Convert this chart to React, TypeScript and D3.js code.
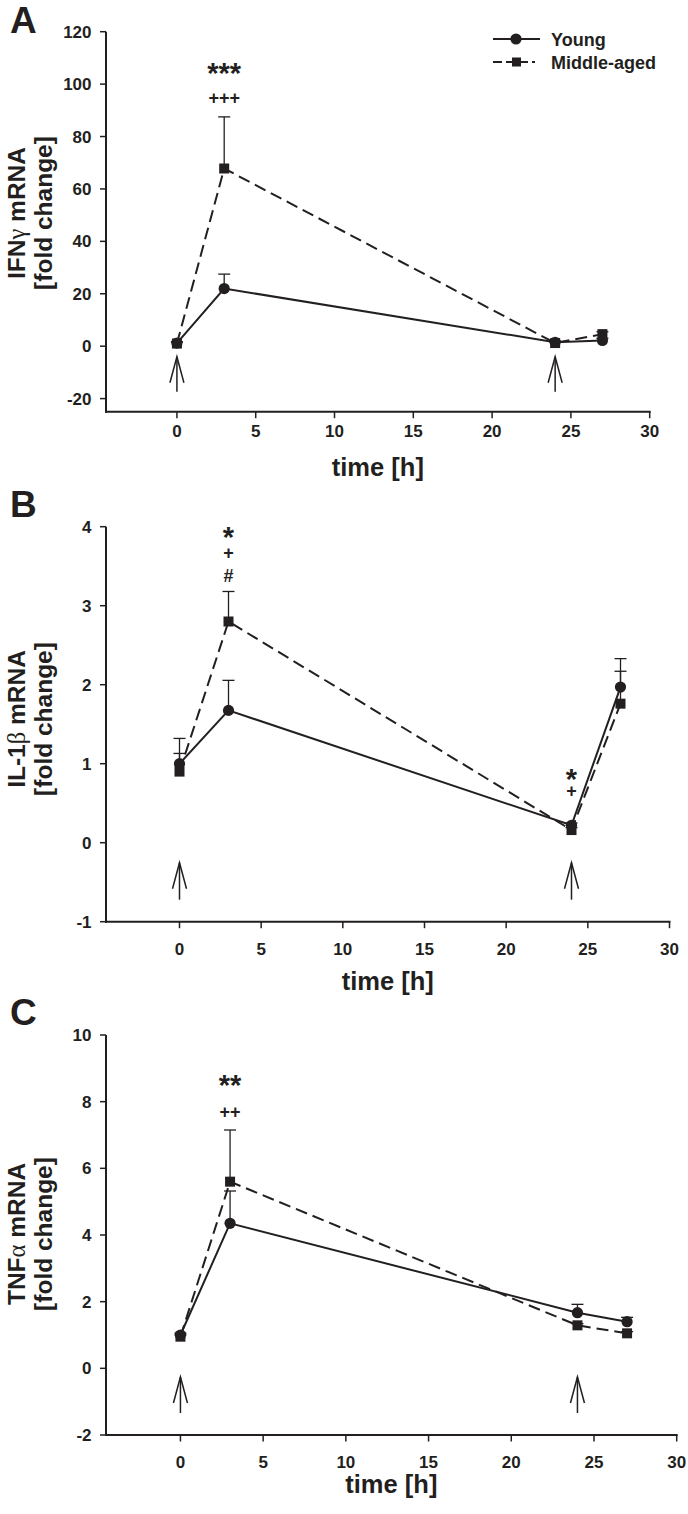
import React from "react";
import * as d3 from "d3";

// ---------- data ----------
const times = [0, 3, 24, 27];
const xTicks = [0, 5, 10, 15, 20, 25, 30];
const arrowTimes = [0, 24];
const seriesNames = ["Young", "Middle-aged"];

// IFN-gamma
const ifnYoung = [1.2, 22, 1.5, 2.2];
const ifnYoungErr = [0.5, 5.5, 0.5, 0.8];
const ifnMiddle = [1.0, 67.8, 1.2, 4.6];
const ifnMiddleErr = [0.5, 19.7, 0.4, 0.9];
const ifnTicks = [-20, 0, 20, 40, 60, 80, 100, 120];
const ifnSig = [
  { t: 3, v: 106.9, text: "***" },
  { t: 3, v: 94.7, text: "+++" },
];

// IL-1beta
const il1Young = [1.0, 1.675, 0.22, 1.97];
const il1YoungErr = [0.32, 0.38, 0.03, 0.36];
const il1Middle = [0.9, 2.8, 0.16, 1.76];
const il1MiddleErr = [0.23, 0.38, 0.03, 0.41];
const il1Ticks = [-1, 0, 1, 2, 3, 4];
const il1Sig = [
  { t: 3, v: 3.95, text: "*" },
  { t: 3, v: 3.67, text: "+" },
  { t: 3, v: 3.38, text: "#" },
  { t: 24, v: 0.89, text: "*" },
  { t: 24, v: 0.65, text: "+" },
];

// TNF-alpha
const tnfYoung = [1.0, 4.35, 1.67, 1.4];
const tnfYoungErr = [0.05, 0.97, 0.25, 0.13];
const tnfMiddle = [0.95, 5.6, 1.29, 1.05];
const tnfMiddleErr = [0.05, 1.55, 0.05, 0.05];
const tnfTicks = [-2, 0, 2, 4, 6, 8, 10];
const tnfSig = [
  { t: 3, v: 8.7, text: "**" },
  { t: 3, v: 7.7, text: "++" },
];

// ---------- style / layout ----------
const FONT = "'Liberation Sans', Arial, Helvetica, sans-serif";
const GREEK = "'Liberation Serif', 'DejaVu Serif', serif";
const INK = "#231f20";
const AXIS_X = 106;
const X_DOMAIN: [number, number] = [-4.5, 30];

type Sig = { t: number; v: number; text: string };
type PanelCfg = {
  letter: string;
  letterY: number;
  top: number;
  bottom: number;
  right: number;
  yDomain: [number, number];
  yTicks: number[];
  young: number[];
  youngErr: number[];
  middle: number[];
  middleErr: number[];
  sig: Sig[];
  labelPre: string;
  labelGreek: string;
  labelPost: string;
  labelY: number;
  xTickDy: number;
  xLabelY: number;
  arrowTip: number;
  arrowTail: number;
  legend: boolean;
};

const panels: PanelCfg[] = [
  {
    letter: "A", letterY: 33, top: 31.7, bottom: 411.7, right: 649.7,
    yDomain: [-25, 120], yTicks: ifnTicks,
    young: ifnYoung, youngErr: ifnYoungErr, middle: ifnMiddle, middleErr: ifnMiddleErr,
    sig: ifnSig, labelPre: "IFN", labelGreek: "γ", labelPost: " mRNA", labelY: 213,
    xTickDy: 25, xLabelY: 476, arrowTip: 55, arrowTail: 20, legend: true,
  },
  {
    letter: "B", letterY: 517, top: 526.7, bottom: 921.7, right: 669.5,
    yDomain: [-1, 4], yTicks: il1Ticks,
    young: il1Young, youngErr: il1YoungErr, middle: il1Middle, middleErr: il1MiddleErr,
    sig: il1Sig, labelPre: "IL-1", labelGreek: "β", labelPost: " mRNA", labelY: 719,
    xTickDy: 33, xLabelY: 990, arrowTip: 59, arrowTail: 22, legend: false,
  },
  {
    letter: "C", letterY: 1025, top: 1035, bottom: 1435, right: 676.7,
    yDomain: [-2, 10], yTicks: tnfTicks,
    young: tnfYoung, youngErr: tnfYoungErr, middle: tnfMiddle, middleErr: tnfMiddleErr,
    sig: tnfSig, labelPre: "TNF", labelGreek: "α", labelPost: " mRNA", labelY: 1234,
    xTickDy: 33, xLabelY: 1493, arrowTip: 58, arrowTail: 22, legend: false,
  },
];

function sigStyle(text: string) {
  if (text.startsWith("*")) return { size: 29, off: 0.57 };
  if (text.startsWith("#")) return { size: 18, off: 0.35 };
  return { size: 18, off: 0.33 };
}

function Square({ cx, cy, s }: { cx: number; cy: number; s: number }) {
  return <rect x={cx - s / 2} y={cy - s / 2} width={s} height={s} fill={INK} />;
}

function Panel({ cfg }: { cfg: PanelCfg }) {
  const x = d3.scaleLinear().domain(X_DOMAIN).range([AXIS_X, cfg.right]);
  const y = d3.scaleLinear().domain(cfg.yDomain).range([cfg.bottom, cfg.top]);
  const line = d3
    .line<number>()
    .x((_, i) => x(times[i]))
    .y((d) => y(d));

  const errBars = (vals: number[], errs: number[], key: string) =>
    vals.map((v, i) => {
      const cx = x(times[i]);
      const y0 = y(v);
      const y1 = y(v + errs[i]);
      return (
        <g key={key + i} stroke={INK} strokeWidth={1.3}>
          <line x1={cx} x2={cx} y1={y0} y2={y1} />
          <line x1={cx - 6} x2={cx + 6} y1={y1} y2={y1} />
        </g>
      );
    });

  const axisTop = y(cfg.yDomain[1]);
  const axisBottom = y(cfg.yDomain[0]);
  const xAxisY = axisBottom;
  const midX = (AXIS_X + cfg.right) / 2;

  return (
    <g fontFamily={FONT} fill={INK}>
      {/* panel letter */}
      <text x={10} y={cfg.letterY} fontSize={37} fontWeight="bold">
        {cfg.letter}
      </text>

      {/* y axis label */}
      <text
        transform={`translate(25,${cfg.labelY}) rotate(-90)`}
        textAnchor="middle"
        fontSize={24.5}
        fontWeight="bold"
      >
        {cfg.labelPre}
        <tspan fontFamily={GREEK} fontWeight="normal">
          {cfg.labelGreek}
        </tspan>
        {cfg.labelPost}
      </text>
      <text
        transform={`translate(51.5,${cfg.labelY}) rotate(-90)`}
        textAnchor="middle"
        fontSize={24.5}
        fontWeight="bold"
      >
        [fold change]
      </text>

      {/* axes */}
      <line x1={AXIS_X} x2={AXIS_X} y1={axisTop} y2={axisBottom + 1} stroke={INK} strokeWidth={2} />
      <line x1={AXIS_X - 1} x2={cfg.right + 1} y1={xAxisY} y2={xAxisY} stroke={INK} strokeWidth={2} />
      {cfg.yTicks.map((t) => (
        <g key={"yt" + t}>
          <line x1={AXIS_X - 6} x2={AXIS_X} y1={y(t)} y2={y(t)} stroke={INK} strokeWidth={1.5} />
          <text
            x={91.5}
            y={y(t) + 6}
            textAnchor="end"
            fontSize={17}
            fontWeight="bold"
          >
            {t}
          </text>
        </g>
      ))}
      {xTicks.map((t) => (
        <g key={"xt" + t}>
          <line x1={x(t)} x2={x(t)} y1={xAxisY} y2={xAxisY + 6.5} stroke={INK} strokeWidth={1.5} />
          <text x={x(t)} y={xAxisY + cfg.xTickDy} textAnchor="middle" fontSize={17} fontWeight="bold">
            {t}
          </text>
        </g>
      ))}
      <text x={midX} y={cfg.xLabelY} textAnchor="middle" fontSize={25.5} fontWeight="bold">
        time [h]
      </text>

      {/* arrows */}
      {arrowTimes.map((t) => {
        const ax = x(t);
        const tip = axisBottom - cfg.arrowTip;
        const tail = axisBottom - cfg.arrowTail;
        return (
          <g key={"ar" + t} stroke={INK} strokeWidth={1.5} fill="none">
            <line x1={ax} x2={ax} y1={tail} y2={tip} />
            <polyline points={`${ax - 7},${tip + 26} ${ax},${tip} ${ax + 7},${tip + 26}`} />
          </g>
        );
      })}

      {/* error bars */}
      {errBars(cfg.young, cfg.youngErr, "ey")}
      {errBars(cfg.middle, cfg.middleErr, "em")}

      {/* lines */}
      <path d={line(cfg.middle) || ""} fill="none" stroke={INK} strokeWidth={2} strokeDasharray="12,6" />
      <path d={line(cfg.young) || ""} fill="none" stroke={INK} strokeWidth={2} />

      {/* markers */}
      {cfg.middle.map((v, i) => (
        <Square key={"sq" + i} cx={x(times[i])} cy={y(v)} s={10} />
      ))}
      {cfg.young.map((v, i) => (
        <circle key={"ci" + i} cx={x(times[i])} cy={y(v)} r={5.6} fill={INK} />
      ))}

      {/* significance marks */}
      {cfg.sig.map((s, i) => {
        const st = sigStyle(s.text);
        return (
          <text
            key={"sg" + i}
            x={x(s.t)}
            y={y(s.v) + st.size * st.off}
            textAnchor="middle"
            fontSize={st.size}
            fontWeight="bold"
          >
            {s.text}
          </text>
        );
      })}

      {/* legend */}
      {cfg.legend && (
        <g>
          <line x1={493} x2={540} y1={39} y2={39} stroke={INK} strokeWidth={2} />
          <circle cx={516} cy={39} r={5.6} fill={INK} />
          <text x={551} y={45.5} fontSize={18} fontWeight="bold">
            {seriesNames[0]}
          </text>
          <line x1={493} x2={535} y1={62} y2={62} stroke={INK} strokeWidth={2} strokeDasharray="9,4" />
          <Square cx={516.5} cy={62} s={9} />
          <text x={551} y={68.5} fontSize={18} fontWeight="bold">
            {seriesNames[1]}
          </text>
        </g>
      )}
    </g>
  );
}

export default function App() {
  return (
    <svg
      width={688}
      height={1514}
      viewBox="0 0 688 1514"
      style={{ position: "absolute", left: 0, top: 0, display: "block", background: "#fff" }}
    >
      <rect width={688} height={1514} fill="#fff" />
      {panels.map((p) => (
        <Panel key={p.letter} cfg={p} />
      ))}
    </svg>
  );
}
